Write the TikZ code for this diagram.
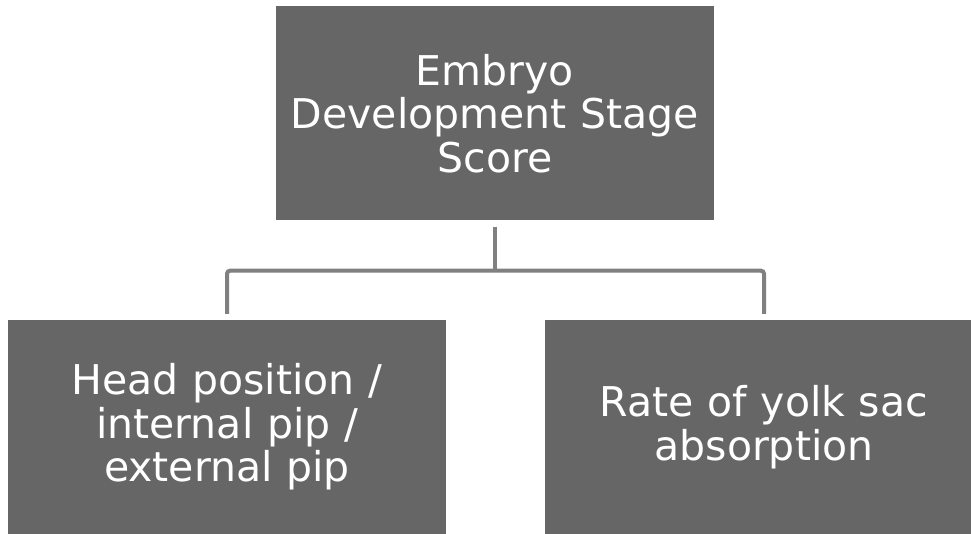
\documentclass[tikz,border=0pt]{standalone}
\usepackage{fontspec}
\setmainfont{DejaVu Sans}
\definecolor{boxgray}{RGB}{102,102,102}
\definecolor{linkgray}{RGB}{128,128,128}
\usetikzlibrary{positioning}

\begin{document}
\begin{tikzpicture}[
          stagebox/.style={
              fill=boxgray,
              draw=none,
              minimum width=438pt,
              minimum height=214pt,
              text width=432pt,
              inner sep=3pt,
              align=center,
              text=white,
              font=\fontsize{41}{43.5}\selectfont
            },
          link/.style={linkgray, line width=4pt, rounded corners=3pt}
        ]
        \clip (0,0) rectangle (971pt,-534pt);
        \node[stagebox] (score) at (495pt,-113.5pt) {Embryo\\Development Stage\\Score};
        \node[stagebox] (pip) at (227pt,-427pt) {Head position /\\internal pip /\\external pip};
        \node[stagebox] (yolk) at (764pt,-427pt) {Rate of yolk sac\\absorption};

        \coordinate (split) at ([yshift=-50pt]score.south);
        \draw[link] ([yshift=-6pt]score.south) -- (split);
        \draw[link] (split) -| ([yshift=6pt]pip.north);
        \draw[link] (split) -| ([yshift=6pt]yolk.north);
      \end{tikzpicture}
\end{document}
